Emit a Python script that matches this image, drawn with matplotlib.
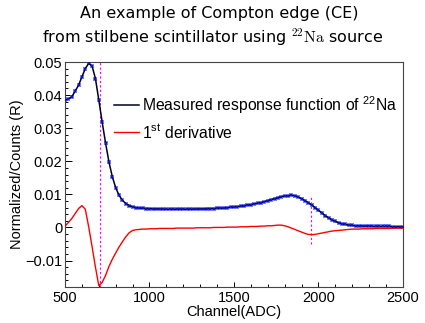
import numpy as np
import matplotlib
matplotlib.use("Agg")
import matplotlib.pyplot as plt
from matplotlib.ticker import MultipleLocator

plt.rcParams['font.family'] = ['Liberation Sans', 'DejaVu Sans']
plt.rcParams['mathtext.fontset'] = 'custom'
plt.rcParams['mathtext.rm'] = 'Liberation Sans'
plt.rcParams['mathtext.it'] = 'Liberation Sans:italic'
plt.rcParams['mathtext.bf'] = 'Liberation Sans:bold'

# ---- data ----
channel = np.arange(500, 2501, 20)
response = [
    0.0385, 0.0388, 0.0395, 0.0412, 0.0430, 0.0455, 0.0480, 0.0496, 0.0488, 0.0450,
    0.0385, 0.0318, 0.0255, 0.0198, 0.0153, 0.0120, 0.0097, 0.0082, 0.0072, 0.0066,
    0.0062, 0.0060, 0.0059, 0.0058, 0.0057, 0.0057, 0.0056, 0.0056, 0.0056, 0.0055,
    0.0055, 0.0055, 0.0055, 0.0055, 0.0055, 0.0055, 0.0055, 0.0055, 0.0055, 0.0056,
    0.0056, 0.0056, 0.0057, 0.0057, 0.0057, 0.0058, 0.0058, 0.0059, 0.0060, 0.0061,
    0.0062, 0.0063, 0.0064, 0.0066, 0.0067, 0.0069, 0.0071, 0.0073, 0.0075, 0.0078,
    0.0081, 0.0084, 0.0087, 0.0090, 0.0093, 0.0095, 0.0096, 0.0097, 0.0096, 0.0092,
    0.0087, 0.0081, 0.0075, 0.0068, 0.0060, 0.0052, 0.0044, 0.0036, 0.0029, 0.0023,
    0.0018, 0.0014, 0.0011, 0.0009, 0.0007, 0.0006, 0.0005, 0.0005, 0.0004, 0.0004,
    0.0004, 0.0003, 0.0003, 0.0003, 0.0003, 0.0003, 0.0003, 0.0002, 0.0002, 0.0002,
    0.0002,
]
derivative = [
    0.0004, 0.0015, 0.0027, 0.0042, 0.0057, 0.0066, 0.0055, 0.0002, -0.0058, -0.0120,
    -0.0176, -0.0166, -0.0145, -0.0118, -0.0096, -0.0077, -0.0059, -0.0043, -0.0028, -0.0016,
    -0.0009, -0.0007, -0.0006, -0.0005, -0.0005, -0.0004, -0.0004, -0.0004, -0.0003, -0.0003,
    -0.0003, -0.0003, -0.0003, -0.0002, -0.0002, -0.0002, -0.0002, -0.0002, -0.0002, -0.0001,
    -0.0001, -0.0001, -0.0001, -0.0001, 0.0000, 0.0000, 0.0000, 0.0000, 0.0001, 0.0001,
    0.0001, 0.0001, 0.0002, 0.0002, 0.0002, 0.0003, 0.0003, 0.0003, 0.0004, 0.0004,
    0.0005, 0.0005, 0.0006, 0.0007, 0.0007, 0.0005, 0.0002, -0.0002, -0.0006, -0.0010,
    -0.0014, -0.0018, -0.0021, -0.0022, -0.0021, -0.0019, -0.0017, -0.0015, -0.0013, -0.0011,
    -0.0010, -0.0009, -0.0008, -0.0007, -0.0006, -0.0005, -0.0005, -0.0005, -0.0004, -0.0004,
    -0.0004, -0.0004, -0.0003, -0.0003, -0.0003, -0.0003, -0.0003, -0.0002, -0.0002, -0.0002,
    -0.0002,
]
ce_positions = [707, 1956]
ce2_range = [-0.0050, 0.0098]

fig = plt.figure(figsize=(4.25, 3.23), dpi=100)
ax = fig.add_axes([0.153, 0.1115, 0.795, 0.6965])

ax.plot(channel, response, linestyle='none', marker='s', markersize=2.6,
        color='#5060ff', markeredgewidth=0, alpha=0.8, zorder=2)
ax.plot(channel, response, color='#000020', lw=1.1, zorder=3,
        label=r'Measured response function of $^{22}$Na')
ax.plot(channel, response, linestyle='none', marker='s', markersize=1.6,
        color='#1010d0', markeredgewidth=0, zorder=4)
ax.plot(channel, derivative, color='red', lw=1.0, zorder=3,
        label=r'1$^{\rm st}$ derivative')

ax.axvline(ce_positions[0], color='#ff00ff', lw=0.8, dashes=(2, 2), zorder=1)
ax.plot([ce_positions[1]] * 2, ce2_range, color='#ff00ff', lw=0.8,
        dashes=(2, 2), zorder=1)

ax.set_xlim(500, 2500)
ax.set_ylim(-0.018, 0.05)
ax.xaxis.set_major_locator(MultipleLocator(500))
ax.xaxis.set_minor_locator(MultipleLocator(100))
ax.yaxis.set_major_locator(MultipleLocator(0.01))
ax.yaxis.set_minor_locator(MultipleLocator(0.002))

def yfmt(v, pos):
    if abs(v) < 1e-9:
        return '0'
    s = '%.2f' % v
    return s.replace('-', '\u2212')
ax.yaxis.set_major_formatter(plt.FuncFormatter(yfmt))

ax.tick_params(axis='both', which='both', direction='in', top=False, right=False,
               labelsize=10.5, colors='black', width=0.7)
ax.tick_params(axis='x', which='major', length=3.6, pad=3)
ax.tick_params(axis='x', which='minor', length=2.2)
ax.tick_params(axis='y', which='major', length=5, pad=2)
ax.tick_params(axis='y', which='minor', length=2.5)
for sp in ax.spines.values():
    sp.set_linewidth(0.8)
    sp.set_color('#444444')

ax.set_xlabel('Channel(ADC)', fontsize=10.5, labelpad=0)
ax.set_ylabel('Normalized/Counts (R)', fontsize=10.5, labelpad=1)

leg = ax.legend(loc='upper left', bbox_to_anchor=(0.125, 0.885), frameon=False,
                fontsize=11.3, handlelength=1.65, handletextpad=0.15,
                labelspacing=0.45, borderaxespad=0)

fig.text(0.515, 0.958, 'An example of Compton edge (CE)', ha='center', va='center',
         fontsize=11.5, family='DejaVu Sans')
fig.text(0.5, 0.885, r'from stilbene scintillator using $^{22}\mathrm{Na}$ source',
         ha='center', va='center', fontsize=11.5, family='DejaVu Sans',
         math_fontfamily='cm')

fig.savefig('out.png', dpi=100)
